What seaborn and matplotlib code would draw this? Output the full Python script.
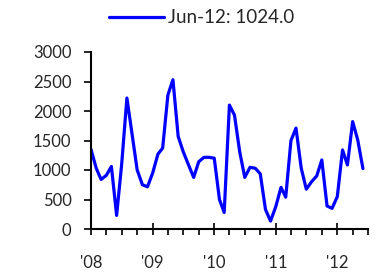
import pandas as pd
import matplotlib
matplotlib.use("Agg")
import matplotlib.pyplot as plt
import matplotlib.dates as mdates
import seaborn as sns

# monthly values, Jan-2008 .. Jun-2012
vals_2008 = [1350, 1030, 840, 910, 1060, 230, 1100, 2220, 1600, 1000, 750, 715]
vals_2009 = [950, 1270, 1370, 2270, 2530, 1570, 1310, 1090, 875, 1140, 1215, 1215]
vals_2010 = [1200, 500, 280, 2100, 1930, 1310, 875, 1045, 1030, 935, 330, 135]
vals_2011 = [380, 705, 540, 1500, 1710, 1030, 675, 800, 900, 1170, 390, 350]
vals_2012 = [550, 1340, 1085, 1820, 1510, 1024]

values = vals_2008 + vals_2009 + vals_2010 + vals_2011 + vals_2012
dates = pd.date_range("2008-01-01", periods=len(values), freq="MS")
df = pd.DataFrame({"date": dates, "value": values})
label = "Jun-12: %.1f" % values[-1]

sns.set_style("white")
plt.rcParams["font.family"] = ["Lato", "DejaVu Sans"]

fig = plt.figure(figsize=(3.81, 2.74), dpi=100)
ax = fig.add_axes([91 / 381, 1 - 229 / 274, 277 / 381, 177 / 274])

sns.lineplot(data=df, x="date", y="value", color="#0000FF", linewidth=2.3,
             label=label, ax=ax)

ax.set_xlim(pd.Timestamp("2008-01-01"), pd.Timestamp("2012-07-01"))
ax.set_ylim(0, 3000)
ax.set_yticks([0, 500, 1000, 1500, 2000, 2500, 3000])
ax.xaxis.set_major_locator(mdates.YearLocator())
ax.xaxis.set_major_formatter(mdates.DateFormatter("'%y"))
ax.xaxis.set_minor_locator(mdates.MonthLocator(bymonth=[1, 4, 7, 10]))
ax.set_xlabel("")
ax.set_ylabel("")

for s in ["top", "right"]:
    ax.spines[s].set_visible(False)
for s in ["left", "bottom"]:
    ax.spines[s].set_color("black")
    ax.spines[s].set_linewidth(1.5)

ax.tick_params(axis="y", direction="out", length=5, width=1.2, color="black",
               labelsize=12, pad=9, left=True)
ax.tick_params(axis="x", which="major", direction="inout", length=9, width=1.2,
               color="black", labelsize=12, pad=14, bottom=True)
ax.tick_params(axis="x", which="minor", direction="out", length=4, width=1.2,
               color="black", bottom=True)

ax.legend(loc="upper center", bbox_to_anchor=(0.53, 1.0), bbox_transform=fig.transFigure,
          frameon=False, fontsize=13.5, handlelength=2.9, handletextpad=0.25,
          borderaxespad=0.1)

fig.savefig("out.png", dpi=100)
